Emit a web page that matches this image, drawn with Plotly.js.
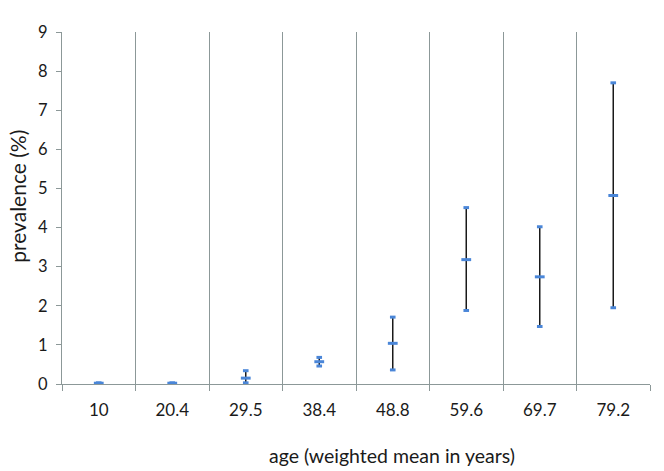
<!DOCTYPE html>
<html>
<head>
<meta charset="utf-8">
<script src="https://cdn.plot.ly/plotly-3.0.1.min.js"></script>
<style>html,body{margin:0;padding:0;background:#fff;}#chart{width:664px;height:471px;}</style>
</head>
<body>
<div id="chart"></div>
<script>
const ages = ["10", "20.4", "29.5", "38.4", "48.8", "59.6", "69.7", "79.2"];
const highVals = [0.03, 0.03, 0.34, 0.68, 1.71, 4.51, 4.02, 7.70];
const lowVals  = [0.01, 0.01, 0.03, 0.46, 0.36, 1.88, 1.47, 1.95];
const midVals  = [0.02, 0.02, 0.15, 0.57, 1.04, 3.18, 2.74, 4.82];
const xTitle = "age (weighted mean in years)";
const yTitle = "prevalence (%)";

const lineX = [], lineY = [];
ages.forEach((a, i) => { lineX.push(a, a, null); lineY.push(lowVals[i], highVals[i], null); });

const blue = "#4a86d8";
const traces = [
  { x: lineX, y: lineY, type: "scatter", mode: "lines", line: { color: "#1a1a1a", width: 1.5 }, hoverinfo: "skip", showlegend: false },
  { x: ages, y: highVals, type: "scatter", mode: "markers", marker: { symbol: "line-ew", size: 4, line: { color: blue, width: 3 } }, showlegend: false },
  { x: ages, y: lowVals, type: "scatter", mode: "markers", marker: { symbol: "line-ew", size: 4, line: { color: blue, width: 3 } }, showlegend: false },
  { x: ages, y: midVals, type: "scatter", mode: "markers", marker: { symbol: "line-ew", size: 7, line: { color: blue, width: 3 } }, showlegend: false }
];

const font = "Lato, 'Open Sans', sans-serif";
const layout = {
  width: 664, height: 471,
  margin: { l: 62, r: 14, t: 32, b: 87 },
  paper_bgcolor: "#fff", plot_bgcolor: "#fff",
  font: { family: font, color: "#1a1a1a", size: 16 },
  xaxis: {
    type: "category", categoryorder: "array", categoryarray: ages,
    tickson: "boundaries", ticks: "outside", ticklen: 6, tickcolor: "#8c9898",
    ticklabelstandoff: 11,
    showgrid: true, gridcolor: "#8c9898", gridwidth: 1,
    showline: true, linecolor: "#8c9898", linewidth: 1,
    range: [-0.5, 7.5], zeroline: false,
    tickfont: { size: 17, family: font, color: "#1a1a1a" }
  },
  yaxis: {
    range: [0, 9], dtick: 1, tick0: 0,
    ticks: "outside", ticklen: 5, tickcolor: "#8c9898",
    ticklabelstandoff: 5,
    showgrid: false, zeroline: false,
    showline: true, linecolor: "#8c9898", linewidth: 1,
    tickfont: { size: 16.5, family: font, color: "#1a1a1a" }
  },
  annotations: [
    { text: xTitle, xref: "paper", yref: "paper", x: 0.561, y: -0.202, xanchor: "center", yanchor: "middle",
      showarrow: false, font: { size: 19.5, family: font, color: "#1a1a1a" } },
    { text: yTitle, xref: "paper", yref: "paper", x: -0.077, y: 0.534, xanchor: "center", yanchor: "middle",
      textangle: -90, showarrow: false, font: { size: 21, family: font, color: "#1a1a1a" } }
  ]
};

Plotly.newPlot("chart", traces, layout, { displayModeBar: false, staticPlot: true });
</script>
</body>
</html>
